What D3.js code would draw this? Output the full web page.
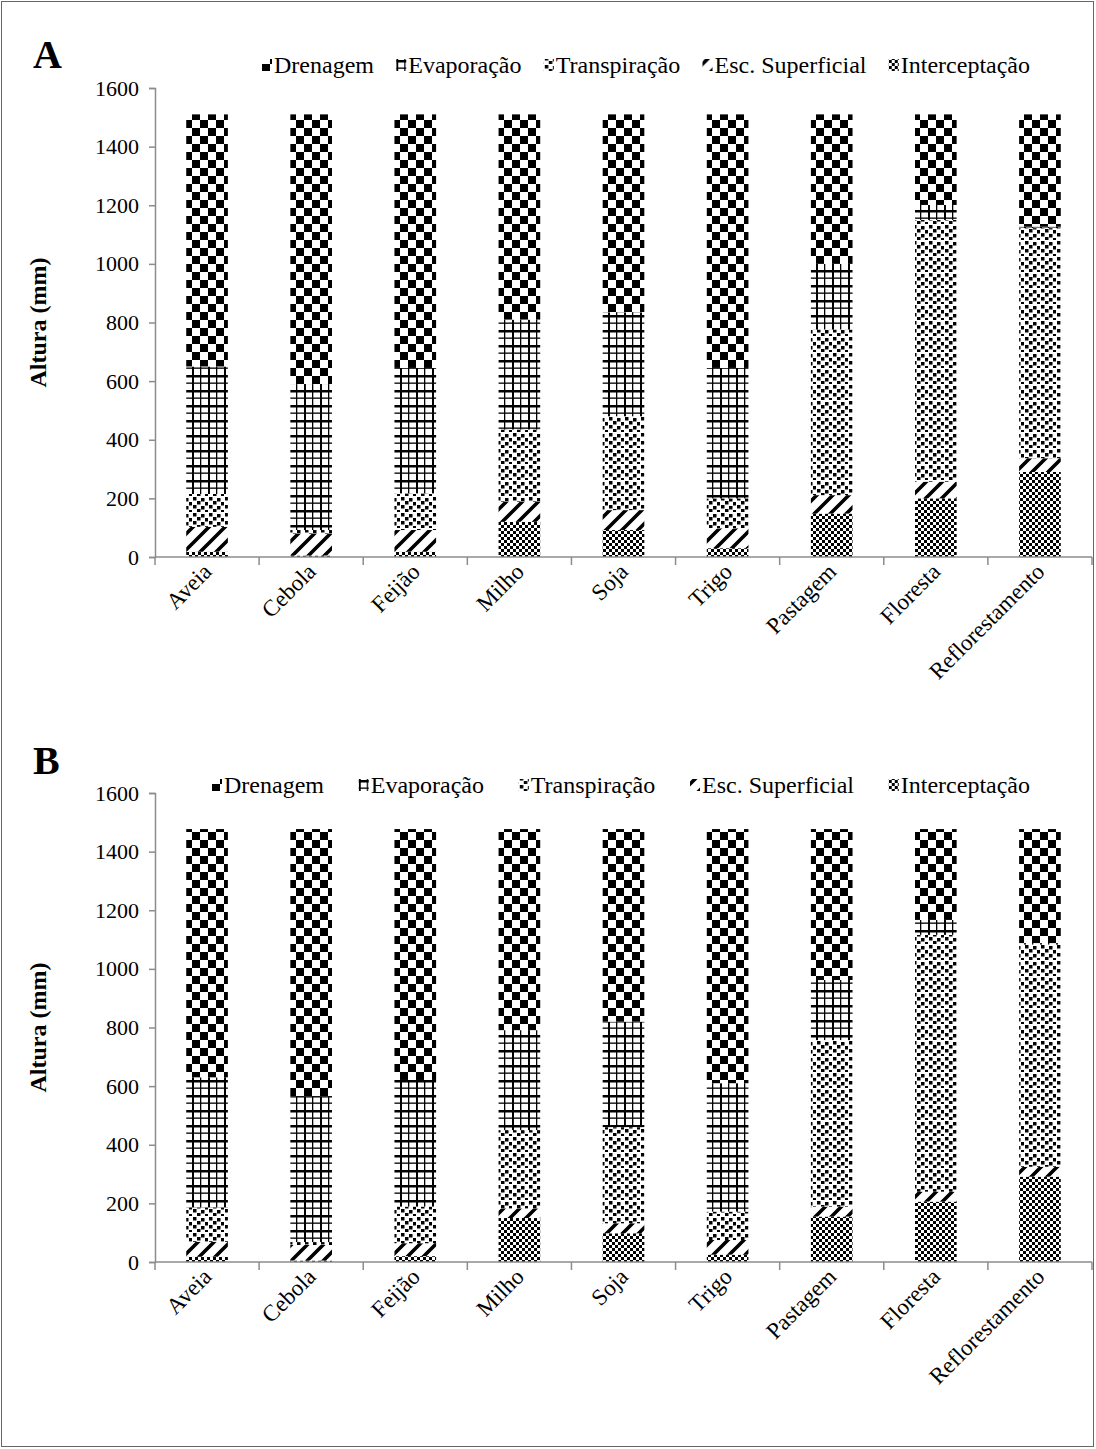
<!DOCTYPE html>
<html>
<head>
<meta charset="utf-8">
<script src="https://cdn.jsdelivr.net/npm/d3@7"></script>
<style>
  body { margin: 0; background: #fff; }
  svg text { font-family: "Liberation Serif", "DejaVu Serif", serif; fill: #000; }
</style>
</head>
<body>
<svg id="chart" width="1096" height="1449"></svg>
<script>
const categories = ['Aveia', 'Cebola', 'Feijão', 'Milho', 'Soja', 'Trigo', 'Pastagem', 'Floresta', 'Reflorestamento'];
// legend order
const seriesNames = ['Drenagem', 'Evaporação', 'Transpiração', 'Esc. Superficial', 'Interceptação'];
const yTicks = [0, 200, 400, 600, 800, 1000, 1200, 1400, 1600];

// panel A (mm)
const interceptA = [18, 5, 18, 120, 92, 30, 148, 200, 290];
const escA = [85, 75, 74, 69, 68, 68, 63, 57, 47];
const transpA = [112, 12, 125, 246, 320, 102, 565, 893, 785];
const evapA = [435, 498, 428, 375, 355, 445, 224, 51, 5];
const drenA = [860, 920, 865, 700, 675, 865, 510, 309, 383];

// panel B (mm)
const interceptB = [18, 5, 20, 150, 98, 25, 155, 206, 291];
const escB = [51, 53, 44, 33, 34, 50, 34, 34, 34];
const transpB = [117, 10, 125, 267, 328, 97, 568, 876, 758];
const evapB = [444, 498, 432, 341, 360, 438, 205, 51, 5];
const drenB = [847, 911, 856, 686, 657, 867, 515, 310, 389];

const svg = d3.select('#chart');
const axisGrey = '#8c8c8c';

// outer frame
svg.append('rect')
  .attr('x', 1.5).attr('y', 1.5)
  .attr('width', 1092).attr('height', 1445)
  .attr('fill', 'none').attr('stroke', '#666');

// ---------- fill patterns ----------
const defs = svg.append('defs');
const patternIds = {
  'Drenagem': 'p-dren',
  'Evaporação': 'p-evap',
  'Transpiração': 'p-transp',
  'Esc. Superficial': 'p-esc',
  'Interceptação': 'p-int'
};

function makePattern(id, w, h) {
  const p = defs.append('pattern')
    .attr('id', id)
    .attr('patternUnits', 'userSpaceOnUse')
    .attr('width', w).attr('height', h);
  p.append('rect').attr('width', w).attr('height', h).attr('fill', '#fff');
  return p;
}

// big checkerboard
const pd = makePattern('p-dren', 16, 16);
pd.append('rect').attr('x', 0).attr('y', 0).attr('width', 8).attr('height', 8).attr('fill', '#000');
pd.append('rect').attr('x', 8).attr('y', 8).attr('width', 8).attr('height', 8).attr('fill', '#000');

// grid
const pe = makePattern('p-evap', 16, 15);
pe.append('rect').attr('x', 0).attr('y', 0).attr('width', 2).attr('height', 15).attr('fill', '#000');
pe.append('rect').attr('x', 8).attr('y', 0).attr('width', 1.3).attr('height', 15).attr('fill', '#000');
pe.append('rect').attr('x', 0).attr('y', 0).attr('width', 16).attr('height', 2.5).attr('fill', '#000');
pe.append('rect').attr('x', 0).attr('y', 7.5).attr('width', 16).attr('height', 1.3).attr('fill', '#000');

// confetti
const pt = makePattern('p-transp', 16, 16);
[[1, 1], [9, 2], [5, 5], [13, 6], [1, 9], [9, 10], [5, 13], [13, 14]].forEach(([x, y]) => {
  pt.append('rect').attr('x', x).attr('y', y).attr('width', 3.5).attr('height', 3.5).attr('fill', '#000');
});

// wide upward diagonal
const ps = makePattern('p-esc', 16, 16);
ps.append('path')
  .attr('d', 'M-4,4 L4,-4 M0,16 L16,0 M12,20 L20,12')
  .attr('stroke', '#000').attr('stroke-width', 3.6);

// small checkerboard
const pi = makePattern('p-int', 6, 6);
pi.append('rect').attr('x', 0).attr('y', 0).attr('width', 3).attr('height', 3).attr('fill', '#000');
pi.append('rect').attr('x', 3).attr('y', 3).attr('width', 3).attr('height', 3).attr('fill', '#000');

// ---------- one panel ----------
function drawPanel(cfg) {
  const rows = categories.map((c, i) => ({
    cat: c,
    'Interceptação': cfg.intercept[i],
    'Esc. Superficial': cfg.esc[i],
    'Transpiração': cfg.transp[i],
    'Evaporação': cfg.evap[i],
    'Drenagem': cfg.dren[i]
  }));

  const stackKeys = seriesNames.slice().reverse();
  const stacked = d3.stack().keys(stackKeys)(rows);

  const x = d3.scaleBand()
    .domain(categories)
    .range([155, 1092])
    .paddingInner(0.6)
    .paddingOuter(0.3);

  const y = d3.scaleLinear()
    .domain([0, 1600])
    .range([cfg.y0, cfg.y0 - 469]);

  const g = svg.append('g');

  // bars
  g.selectAll('g.layer')
    .data(stacked)
    .join('g')
    .attr('class', 'layer')
    .attr('fill', d => `url(#${patternIds[d.key]})`)
    .selectAll('rect')
    .data(d => d)
    .join('rect')
    .attr('x', d => x(d.data.cat))
    .attr('width', x.bandwidth())
    .attr('y', d => y(d[1]))
    .attr('height', d => y(d[0]) - y(d[1]));

  // y axis
  const yAxis = g.append('g')
    .attr('transform', 'translate(155,0)')
    .call(d3.axisLeft(y).tickValues(yTicks).tickSize(6).tickPadding(10).tickFormat(d3.format('d')));
  yAxis.select('.domain').attr('stroke', axisGrey).attr('stroke-width', 1.5);
  yAxis.selectAll('.tick line').attr('stroke', axisGrey).attr('stroke-width', 1.5);
  yAxis.selectAll('.tick text')
    .attr('font-size', 22)
    .attr('font-family', '"Liberation Serif", serif');

  // x axis with ticks between categories
  g.append('line')
    .attr('x1', x.range()[0]).attr('x2', x.range()[1])
    .attr('y1', y(0)).attr('y2', y(0))
    .attr('stroke', axisGrey).attr('stroke-width', 1.5);
  g.selectAll('line.xtick')
    .data(d3.range(categories.length + 1))
    .join('line')
    .attr('class', 'xtick')
    .attr('x1', i => x.range()[0] + i * x.step())
    .attr('x2', i => x.range()[0] + i * x.step())
    .attr('y1', y(0)).attr('y2', y(0) + 8)
    .attr('stroke', axisGrey).attr('stroke-width', 1.5);

  g.selectAll('text.cat')
    .data(categories)
    .join('text')
    .attr('class', 'cat')
    .attr('font-size', 23)
    .attr('text-anchor', 'end')
    .attr('transform', d => `translate(${x(d) + x.bandwidth() / 2 + 6},${y(0) + 16}) rotate(-45)`)
    .text(d => d);

  // y title
  g.append('text')
    .attr('transform', `translate(46,${y(800)}) rotate(-90)`)
    .attr('text-anchor', 'middle')
    .attr('font-size', 24)
    .attr('font-weight', 'bold')
    .text('Altura (mm)');

  // panel letter
  g.append('text')
    .attr('x', 33).attr('y', cfg.letterY)
    .attr('font-size', 40)
    .attr('font-weight', 'bold')
    .text(cfg.letter);

  // legend, spread between given ends
  const leg = g.append('g');
  const items = leg.selectAll('g')
    .data(seriesNames)
    .join('g');
  items.append('rect')
    .attr('width', 10).attr('height', 12)
    .attr('y', cfg.legendY - 6)
    .attr('fill', d => `url(#${patternIds[d]})`);
  items.append('text')
    .attr('x', 12)
    .attr('y', cfg.legendY)
    .attr('dy', '0.35em')
    .attr('font-size', 24)
    .text(d => d);
  const widths = [];
  items.each(function () { widths.push(12 + d3.select(this).select('text').node().getComputedTextLength()); });
  const gap = (cfg.legendX[1] - cfg.legendX[0] - d3.sum(widths)) / (seriesNames.length - 1);
  let cx = cfg.legendX[0];
  items.attr('transform', (d, i) => {
    const t = `translate(${cx},0)`;
    cx += widths[i] + gap;
    return t;
  });
}

drawPanel({
  letter: 'A', letterY: 68, y0: 557, legendY: 65, legendX: [262, 1030],
  intercept: interceptA, esc: escA, transp: transpA, evap: evapA, dren: drenA
});
drawPanel({
  letter: 'B', letterY: 774, y0: 1262, legendY: 785, legendX: [212, 1030],
  intercept: interceptB, esc: escB, transp: transpB, evap: evapB, dren: drenB
});
</script>
</body>
</html>
